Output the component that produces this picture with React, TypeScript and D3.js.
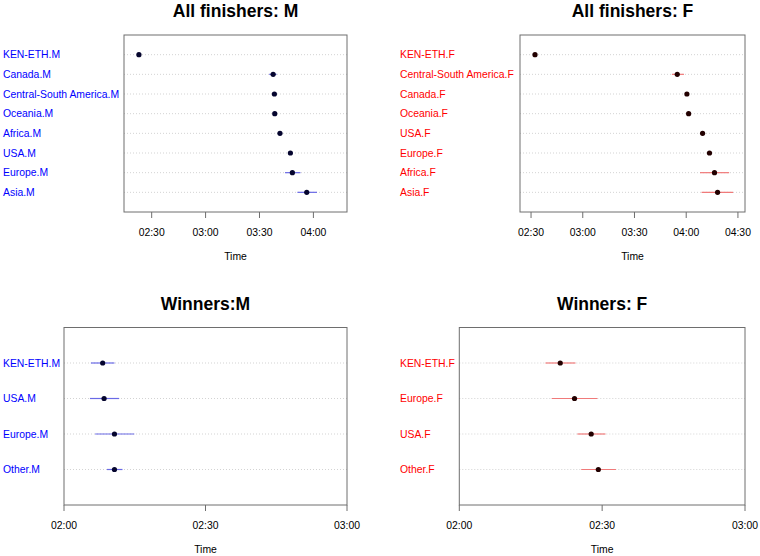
import React from "react";
import * as d3 from "d3";

// Times are in minutes (e.g. 150 = 02:30)
const allMLabels = ["KEN-ETH.M", "Canada.M", "Central-South America.M", "Oceania.M", "Africa.M", "USA.M", "Europe.M", "Asia.M"];
const allMValues = [142.9, 217.6, 218.3, 218.5, 221.4, 227.2, 228.3, 236.3];
const allMLower = [142.6, 215.4, 217.5, 217.8, 220.5, 226.6, 224.2, 231.1];
const allMUpper = [143.2, 219.5, 219.1, 219.2, 222.3, 227.8, 232.8, 242.0];

const allFLabels = ["KEN-ETH.F", "Central-South America.F", "Canada.F", "Oceania.F", "USA.F", "Europe.F", "Africa.F", "Asia.F"];
const allFValues = [152.3, 234.8, 240.4, 241.4, 249.5, 253.5, 256.4, 258.2];
const allFLower = [152.0, 231.7, 239.6, 240.6, 248.7, 252.9, 248.0, 248.9];
const allFUpper = [152.6, 238.7, 241.2, 242.2, 250.3, 254.1, 264.9, 267.2];

const winMLabels = ["KEN-ETH.M", "USA.M", "Europe.M", "Other.M"];
const winMValues = [128.2, 128.5, 130.7, 130.7];
const winMLower = [125.7, 125.5, 126.6, 129.1];
const winMUpper = [130.7, 131.7, 134.9, 132.4];

const winFLabels = ["KEN-ETH.F", "Europe.F", "USA.F", "Other.F"];
const winFValues = [141.2, 144.2, 147.7, 149.2];
const winFLower = [138.1, 139.4, 144.8, 145.6];
const winFUpper = [144.4, 149.0, 150.7, 152.9];

const ticksAllM = [150, 180, 210, 240];
const ticksAllF = [150, 180, 210, 240, 270];
const ticksWin = [120, 150, 180];

const fmt = (m: number) => {
  const h = Math.floor(m / 60);
  const mm = Math.round(m - h * 60);
  return `${String(h).padStart(2, "0")}:${String(mm).padStart(2, "0")}`;
};

const FONT = "'Liberation Sans', Arial, Helvetica, sans-serif";

type PanelProps = {
  title: string;
  labels: string[];
  values: number[];
  lower: number[];
  upper: number[];
  ticks: number[];
  domain: [number, number];
  box: { x0: number; x1: number; y0: number; y1: number };
  labelX: number;
  labelColor: string;
  barColor: string;
  pointColor: string;
};

function Panel(p: PanelProps) {
  const { x0, x1, y0, y1 } = p.box;
  const x = d3.scaleLinear().domain(p.domain).range([x0, x1]);
  const n = p.labels.length;
  const y = d3.scaleLinear().domain([0, n + 1]).range([y0, y1]);
  const cx = (x0 + x1) / 2;
  return (
    <g fontFamily={FONT}>
      <text x={cx} y={y0 - 18} textAnchor="middle" fontWeight="bold" fontSize={17.5} fill="#000">
        {p.title}
      </text>
      {p.labels.map((lab, i) => (
        <g key={lab}>
          <line x1={x0} x2={x1} y1={y(i + 1)} y2={y(i + 1)} stroke="#d3d3d3" strokeWidth={1} strokeDasharray="1,2" />
          <text x={p.labelX} y={y(i + 1)} dy="0.36em" fontSize={10.4} fill={p.labelColor}>
            {lab}
          </text>
          <line x1={x(p.lower[i])} x2={x(p.upper[i])} y1={y(i + 1)} y2={y(i + 1)} stroke={p.barColor} strokeWidth={1.2} />
          <circle cx={x(p.values[i])} cy={y(i + 1)} r={2.6} fill={p.pointColor} />
        </g>
      ))}
      <rect x={x0} y={y0} width={x1 - x0} height={y1 - y0} fill="none" stroke="#6e6e6e" strokeWidth={1} />
      {p.ticks.map((t) => (
        <g key={t}>
          <line x1={x(t)} x2={x(t)} y1={y1} y2={y1 + 6} stroke="#6e6e6e" strokeWidth={1} />
          <text x={x(t)} y={y1 + 20} dy="0.36em" textAnchor="middle" fontSize={10.4} fill="#000">
            {fmt(t)}
          </text>
        </g>
      ))}
      <text x={cx} y={y1 + 44} dy="0.36em" textAnchor="middle" fontSize={10.4} fill="#000">
        Time
      </text>
    </g>
  );
}

export default function App() {
  return (
    <svg width={760} height={556} style={{ position: "absolute", left: 0, top: 0, background: "#fff" }}>
      <rect width={760} height={556} fill="#fff" />
      <Panel
        title="All finishers: M"
        labels={allMLabels}
        values={allMValues}
        lower={allMLower}
        upper={allMUpper}
        ticks={ticksAllM}
        domain={[134.6, 258.7]}
        box={{ x0: 124, x1: 347, y0: 35, y1: 212 }}
        labelX={3}
        labelColor="#0000ff"
        barColor="#6a6ae6"
        pointColor="#05052e"
      />
      <Panel
        title="All finishers: F"
        labels={allFLabels}
        values={allFValues}
        lower={allFLower}
        upper={allFUpper}
        ticks={ticksAllF}
        domain={[143.6, 274.1]}
        box={{ x0: 520, x1: 745, y0: 35, y1: 212 }}
        labelX={400}
        labelColor="#ff0000"
        barColor="#f07a7a"
        pointColor="#220000"
      />
      <Panel
        title="Winners:M"
        labels={winMLabels}
        values={winMValues}
        lower={winMLower}
        upper={winMUpper}
        ticks={ticksWin}
        domain={[120, 180]}
        box={{ x0: 64, x1: 347, y0: 327.5, y1: 505 }}
        labelX={3}
        labelColor="#0000ff"
        barColor="#6a6ae6"
        pointColor="#05052e"
      />
      <Panel
        title="Winners: F"
        labels={winFLabels}
        values={winFValues}
        lower={winFLower}
        upper={winFUpper}
        ticks={ticksWin}
        domain={[120, 180]}
        box={{ x0: 459.3, x1: 745, y0: 327.5, y1: 505 }}
        labelX={400}
        labelColor="#ff0000"
        barColor="#f07a7a"
        pointColor="#220000"
      />
    </svg>
  );
}
